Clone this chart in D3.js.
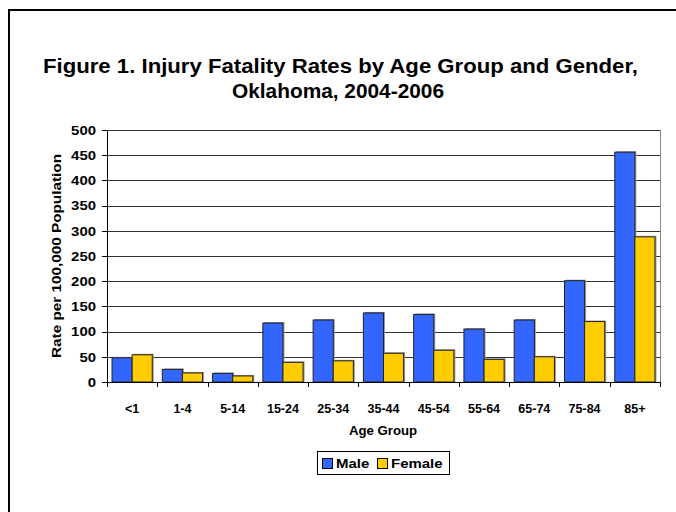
<!DOCTYPE html>
<html>
<head>
<meta charset="utf-8">
<script src="https://cdn.jsdelivr.net/npm/d3@7"></script>
<style>
  html, body { margin: 0; background: #fff; overflow: hidden; }
  svg { display: block; }
  svg text { font-family: Arial, "Liberation Sans", sans-serif; font-weight: bold; fill: #000; }
</style>
</head>
<body>
<div id="chart"></div>
<script>
// 데이터
const ageGroups = ['<1', '1-4', '5-14', '15-24', '25-34', '35-44', '45-54', '55-64', '65-74', '75-84', '85+'];
const maleRates = [48, 25, 17, 117, 123, 137, 134, 105, 123, 201, 456];
const femaleRates = [54, 18, 12, 39, 42, 57, 63, 45, 50, 120, 288];
const seriesNames = ['Male', 'Female'];
const seriesColors = ['#3366ff', '#ffcc00'];
const yTicks = [0, 50, 100, 150, 200, 250, 300, 350, 400, 450, 500];

const W = 676, H = 512;
const plot = { left: 107, right: 660, top: 130, bottom: 382 };
const TEXT_STRETCH = 1.15; // 원본 글꼴이 Arial보다 옆으로 넓음

const svg = d3.select('#chart').append('svg')
    .attr('width', W)
    .attr('height', H);

// 가로로 늘린 텍스트 (anchor 위치 기준)
function stretchedText(parent, x, yPos, str, size, anchor, sx) {
    return parent.append('text')
        .attr('transform', `translate(${x},${yPos}) scale(${sx || TEXT_STRETCH},1)`)
        .attr('text-anchor', anchor || 'start')
        .style('font-size', size + 'px')
        .text(str);
}

// 바깥 테두리: 위쪽과 왼쪽 선만
svg.append('line')
    .attr('x1', 9).attr('x2', 9)
    .attr('y1', 9).attr('y2', H)
    .attr('stroke', '#000')
    .attr('stroke-width', 2);
svg.append('line')
    .attr('x1', 8).attr('x2', W)
    .attr('y1', 10).attr('y2', 10)
    .attr('stroke', '#000')
    .attr('stroke-width', 2);

// 제목
svg.append('text')
    .attr('x', 43).attr('y', 73)
    .attr('textLength', 595)
    .attr('lengthAdjust', 'spacingAndGlyphs')
    .style('font-size', '20px')
    .text('Figure 1. Injury Fatality Rates by Age Group and Gender,');
svg.append('text')
    .attr('x', 232).attr('y', 98)
    .attr('textLength', 212)
    .attr('lengthAdjust', 'spacingAndGlyphs')
    .style('font-size', '20px')
    .text('Oklahoma, 2004-2006');

// Scale
const x0 = d3.scaleBand()
    .domain(ageGroups)
    .range([plot.left, plot.right])
    .paddingInner(0.2)
    .paddingOuter(0.1);

const x1 = d3.scaleBand()
    .domain(seriesNames)
    .range([0, x0.bandwidth()]);

const y = d3.scaleLinear()
    .domain([0, 500])
    .range([plot.bottom, plot.top]);

// 그리드
svg.append('g')
    .selectAll('line')
    .data(yTicks.filter(d => d > 0))
    .enter()
    .append('line')
    .attr('x1', plot.left).attr('x2', plot.right)
    .attr('y1', d => Math.round(y(d)) + 0.5)
    .attr('y2', d => Math.round(y(d)) + 0.5)
    .attr('stroke', '#333')
    .attr('stroke-width', 1);

// 오른쪽 테두리
svg.append('line')
    .attr('x1', plot.right + 0.5).attr('x2', plot.right + 0.5)
    .attr('y1', plot.top).attr('y2', plot.bottom)
    .attr('stroke', '#888');

// 막대
const rows = ageGroups.map((g, i) => ({ group: g, values: [maleRates[i], femaleRates[i]] }));

const groups = svg.append('g')
    .selectAll('g')
    .data(rows)
    .enter()
    .append('g')
    .attr('transform', d => `translate(${x0(d.group)},0)`);

// 그림자
groups.selectAll('.shadow')
    .data(d => d.values.map((v, k) => ({ name: seriesNames[k], value: v })))
    .enter()
    .append('rect')
    .attr('class', 'shadow')
    .attr('x', d => x1(d.name) + 1.5)
    .attr('y', d => y(d.value) - 1)
    .attr('width', x1.bandwidth())
    .attr('height', d => plot.bottom - y(d.value) + 1)
    .attr('fill', '#999');

groups.selectAll('.bar')
    .data(d => d.values.map((v, k) => ({ name: seriesNames[k], value: v, color: seriesColors[k] })))
    .enter()
    .append('rect')
    .attr('class', 'bar')
    .attr('x', d => x1(d.name))
    .attr('y', d => y(d.value))
    .attr('width', x1.bandwidth())
    .attr('height', d => plot.bottom - y(d.value))
    .attr('fill', d => d.color)
    .attr('stroke', '#222')
    .attr('stroke-width', 1);

// X축
const step = x0.step();
const boundaries = d3.range(ageGroups.length + 1).map(i => plot.left + i * step);
const xAxis = svg.append('g');
xAxis.append('line')
    .attr('x1', plot.left).attr('x2', plot.right)
    .attr('y1', plot.bottom + 0.5).attr('y2', plot.bottom + 0.5)
    .attr('stroke', '#000');
xAxis.selectAll('.xtick')
    .data(boundaries)
    .enter()
    .append('line')
    .attr('x1', d => Math.round(d) + 0.5).attr('x2', d => Math.round(d) + 0.5)
    .attr('y1', plot.bottom).attr('y2', plot.bottom + 5)
    .attr('stroke', '#000');
ageGroups.forEach(g => {
    stretchedText(xAxis, x0(g) + x0.bandwidth() / 2, 413, g, 12.5, 'middle', 1.0);
});

stretchedText(svg, 383, 435, 'Age Group', 12, 'middle', 1.1);

// Y축
const yAxis = svg.append('g');
yAxis.append('line')
    .attr('x1', plot.left + 0.5).attr('x2', plot.left + 0.5)
    .attr('y1', plot.top).attr('y2', plot.bottom)
    .attr('stroke', '#000');
yAxis.selectAll('.ytick')
    .data(yTicks)
    .enter()
    .append('line')
    .attr('x1', plot.left - 5).attr('x2', plot.left)
    .attr('y1', d => Math.round(y(d)) + 0.5)
    .attr('y2', d => Math.round(y(d)) + 0.5)
    .attr('stroke', '#000');
yTicks.forEach(t => {
    stretchedText(yAxis, 96, y(t) + 4.7, t, 13, 'end', 1.15);
});

svg.append('text')
    .attr('transform', `translate(61,${(plot.top + plot.bottom) / 2}) rotate(-90)`)
    .attr('text-anchor', 'middle')
    .attr('textLength', 204)
    .attr('lengthAdjust', 'spacingAndGlyphs')
    .style('font-size', '12.5px')
    .text('Rate per 100,000 Population');

// 범례
const legend = svg.append('g');
legend.append('rect')
    .attr('x', 317.5).attr('y', 451.5)
    .attr('width', 132).attr('height', 23)
    .attr('fill', '#fff')
    .attr('stroke', '#000');

const legendX = [322, 377];
seriesNames.forEach((name, k) => {
    legend.append('rect')
        .attr('x', legendX[k] + 0.5).attr('y', 458.5)
        .attr('width', 10).attr('height', 10)
        .attr('fill', seriesColors[k])
        .attr('stroke', '#000');
    stretchedText(legend, legendX[k] + 14, 468, name, 13, 'start', 1.15);
});
</script>
</body>
</html>
